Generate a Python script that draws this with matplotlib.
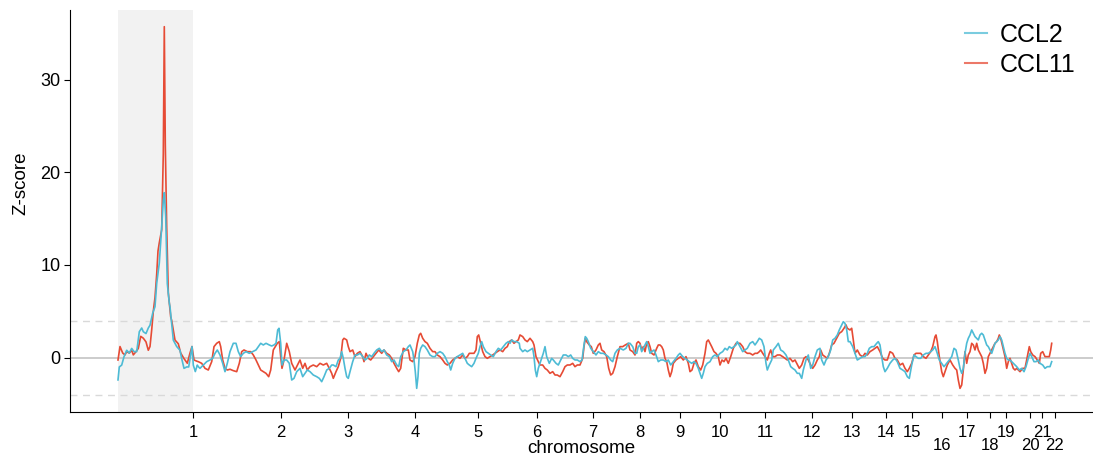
import matplotlib
matplotlib.use("Agg")
import matplotlib.pyplot as plt
from matplotlib.lines import Line2D

plt.rcParams['font.family'] = ['Liberation Sans', 'DejaVu Sans']

# chromosome end positions (same genomic bin units as the data)
chrom_labels = [str(i) for i in range(1, 23)]
chrom_ends = [75, 163, 230, 297, 360, 419, 475, 522, 562, 602, 647, 694,
              734, 768, 794, 824, 849, 872, 888, 912, 924, 937]
lower_row = ['16', '18', '20', '22']

# CCL11 (red)
pos_ccl11 = [0, 2, 4.7, 7, 8.7, 11.3, 13.7, 15.3, 18, 20.3, 22.7, 25.3, 28, 30.3, 32, 33.7,
             35.3, 37, 38.7, 40, 41.3, 43.7, 45.3, 46.3, 47.3, 48.7, 50.3, 52.7, 53.7, 57,
             60.3, 62.7, 66, 69.3, 72, 74, 76, 79.3,
             80.3, 83.7, 87, 90.3, 93.7, 96, 98.7, 101.3, 102.7, 104.7, 107, 109.3, 112,
             115.3, 118.7, 121.3, 123.7, 126, 129.3, 132.7, 135.3, 138, 140.3, 142.7, 145.3,
             148, 150.7, 152.7, 155.3, 157.3, 159.3, 161.3, 162.7, 164, 166, 168.7, 171.3,
             173.7, 177, 180.3,
             182, 184.7, 187, 189.3, 192, 195.3, 198.7, 202, 205.3, 208.7, 211.3, 213.7,
             215.3, 218, 220.3, 222.7, 224.7, 226, 228.7, 230.3, 232, 234.7, 237, 239.3, 242,
             244.7, 246, 248, 250.3, 252.7, 255.3, 258, 260.7, 263.7, 266, 268.7, 271.3,
             273.7, 276, 278.7, 280.7, 282.7, 285.3, 288, 290.3,
             292, 294.7, 297, 299.3, 301.3, 302.7, 304.7, 307, 309.3, 312, 314.7, 317, 319.3,
             322, 324.7, 327, 329.3, 332, 334.7, 337, 339.3, 342, 344.7, 347, 349.3, 351.3,
             353.7, 356, 358, 359.3, 360.7, 362.7, 364.7, 367, 369.3, 372, 374.7, 377, 379.3,
             382, 384.7, 387, 389.3, 391.3, 393.7, 396, 398, 400.3,
             402, 404.7, 407, 409.3, 412, 414.7, 416, 418, 420.3, 422, 424.7, 427, 429.3,
             432, 434.7, 437, 439.3, 442, 444.7, 447, 449.3, 452, 454.7, 457, 459.3, 462,
             464.7, 466, 467.3, 468.7, 471.3, 473.3, 475.3, 478, 480.3, 482, 483.7, 486,
             488.7, 490.7, 492.7, 494.7, 497, 499.3, 502, 504.7, 507.3, 510.3,
             512, 514.7, 517, 518.7, 520.3, 522, 523.7, 525.3, 527, 528.7, 530.3, 532, 533.7,
             536, 538.7, 540.3, 542, 543.7, 545.3, 547, 548.7, 550.3, 552, 553.7, 555.3, 558,
             560.3, 562.7, 565.3, 568, 570.3, 572, 574, 576, 578, 580.3, 582.7, 584.7, 587,
             588.7, 590.3, 592, 593.7, 596, 598, 600.3, 602, 604, 606, 608, 610.3, 612.7,
             615.3, 618, 620.3,
             622, 624.7, 627, 629.3, 632, 634.7, 637, 639.3, 641.3, 642.7, 644.7, 647, 649.3,
             651.3, 652.7, 654.7, 657, 659.3, 662, 664.7, 667, 669.3, 672, 674.7, 677, 678.7,
             681.3, 683.7, 686, 688, 690.3, 692.7, 694.7, 697, 699.3, 701.3, 702.7, 704.7,
             707, 709.3, 711.3, 713.7, 716, 718.7, 721.3, 723.7, 726, 728, 729.3,
             732, 733.7, 735.3, 737, 739.3, 742, 744.7, 747, 749.3, 752, 754.7, 757, 759.3,
             762, 764.7, 767, 769.3, 772, 774.7, 777, 779.3, 782, 784.7, 787, 789.3, 791.3,
             793.7, 796, 798, 800.3, 802.7, 805.3, 808, 810.3, 812.7, 814.7, 817, 818, 819.3,
             821.3, 823.7, 825.3, 827, 829.3, 832, 834.7, 837, 838.7, 840.3,
             842, 843.7, 845.3, 847, 848.7, 850.3, 852, 853.7, 855.3, 857, 858.7, 860.3, 862,
             863.7, 865.3, 867, 868.7, 870.3, 872, 873.7, 875.3, 877, 878.7, 880.3, 881.3,
             882.7, 884.7, 887, 888.7, 890.3, 892, 893.7, 895.3, 897, 898.7, 900.3, 902,
             904.7, 907, 909.3, 911.3, 912.7, 914.7, 917, 919.3, 921.3, 922.7, 924.7, 927,
             929.3, 931.3, 932.7, 933.7]
z_ccl11 = [-0.25, 1.2, 0.5, 0.3, 0.65, 0.5, 0.8, 0.3, 0.65, 1.0, 2.3, 2.1, 1.7, 0.8, 1.2, 3.0,
           5.0, 6.5, 9.0, 11.5, 12.4, 13.8, 22.0, 35.7, 23.0, 14.1, 7.0, 4.4, 4.0, 1.9,
           1.5, 0.5, -0.1, -0.6, 0.5, 1.2, -0.25, -0.4,
           -0.43, -0.61, -1.15, -1.33, -0.43, 1.19, 1.55, 1.73, 1.19, -0.25, -1.15, -1.33,
           -1.25, -1.4, -1.51, -0.61, 0.65, 0.83, 0.65, 0.65, 0.29, -0.25, -0.79, -1.33,
           -1.51, -1.69, -2.05, -1.33, 0.83, 1.19, 1.55, 1.73, 0.11, -1.15, -0.25, 1.55,
           0.65, -0.61, -1.33, -0.61,
           -0.25, -1.15, -0.61, -1.33, -0.97, -0.79, -0.97, -0.61, -0.79, -0.61, -1.15,
           -1.69, -2.23, -1.51, -0.97, -0.07, 1.91, 2.09, 1.91, 1.19, 0.65, 0.83, 0.11,
           0.47, 0.65, 0.11, -0.43, 0.47, -0.07, -0.25, 0.11, 0.47, 0.83, 0.47, 0.83, 0.47,
           0.29, -0.07, -0.61, -1.15, -1.51, -1.15, 1.01, 0.83, 0.83,
           -0.25, -0.43, 0.11, 1.55, 2.45, 2.63, 2.09, 1.73, 1.55, 1.01, 0.65, 0.65, 0.29,
           0.11, -0.25, -0.61, -0.79, -0.61, -0.25, -0.07, 0.11, -0.07, 0.29, -0.07, 0.11,
           0.47, 0.47, 0.47, 0.83, 2.27, 2.45, 1.55, 0.65, 0.11, -0.07, 0.11, 0.29, 0.47,
           0.65, 0.83, 0.65, 1.01, 1.19, 1.73, 1.91, 1.55, 1.73, 1.91,
           2.45, 2.27, 1.91, 1.73, 2.09, 1.73, 1.37, 0.11, -0.43, -0.79, -0.79, -1.15,
           -1.33, -1.69, -1.51, -1.87, -1.87, -2.05, -1.51, -0.97, -0.79, -0.79, -0.61,
           -0.97, -0.79, -0.79, -0.07, 1.19, 2.09, 1.73, 1.37, 1.19, 0.47, 0.83, 1.37, 1.55,
           0.83, 0.65, 0.11, -1.15, -1.87, -1.69, -0.97, 0.11, 1.19, 1.19, 1.37, 1.55,
           0.83, 0.65, 0.29, 1.55, 1.73, 1.55, 0.83, 1.19, 0.65, 1.55, 1.73, 1.19, 0.47,
           0.29, 1.01, 1.37, 1.37, 1.19, 0.83, -0.07, -0.43, -1.33, -2.05, -1.51, -0.61,
           -0.25, -0.07, 0.11, -0.25, 0.11, -0.61, -1.51, -1.33, -0.61, -0.25, -0.97, -1.33,
           -0.79, 0.47, 1.73, 1.91, 1.55, 1.19, 0.65, 0.47, 0.11, -0.79, -0.25, -0.43,
           -0.07, -0.61, 0.11, 1.01, 1.55, 1.55,
           1.55, 1.19, 0.65, 0.47, 0.47, 0.29, 0.47, 0.47, 0.65, 0.83, 0.47, 0.11, -0.25,
           0.47, 0.83, 0.11, 0.11, 0.29, 0.29, 0.11, -0.07, -0.25, -0.07, -0.43, -0.25,
           -0.61, -1.15, -0.79, -0.07, 0.11, -0.25, -0.79, -1.15, -0.79, -0.25, 0.11, 0.83,
           0.29, 0.11, -0.07, 0.47, 1.37, 1.55, 2.09, 2.63, 2.81, 3.17, 3.53, 3.17,
           2.99, 3.17, 1.91, 0.47, 0.83, 0.29, 0.11, 0.47, 0.29, 0.65, 0.83, 1.01, 1.19,
           0.65, -0.07, -0.25, -0.25, 0.65, 0.47, -0.07, -0.25, -0.79, -0.61, -1.15, -1.51,
           -1.15, -0.61, 0.29, 0.47, 0.47, 0.47, 0.11, -0.07, 0.29, 0.65, 1.19, 2.27, 2.45,
           1.73, 0.11, -1.51, -2.05, -1.51, -0.79, -0.25, -0.79, -1.15, -1.33, -2.41,
           -3.31, -2.95, -1.33, 0.65, -0.61, 0.29, 0.65, 1.55, 1.37, 0.83, 1.55, 0.83, 0.47,
           0.11, -0.61, -1.69, -1.15, 0.11, 0.47, 0.83, 1.19, 1.55, 1.73, 2.09, 2.45,
           2.09, 1.19, 0.11, -1.15, -0.43, -0.07, -0.61, -1.15, -1.33, -1.15, -1.33, -1.51,
           -1.15, -1.15, 0.11, 1.19, 0.65, 0.29, 0.11, -0.25, -0.61, 0.47, 0.65, 0.11,
           0.11, 0.11, 0.83, 1.55]

# CCL2 (blue)
pos_ccl2 = [0, 1.3, 3.7, 6, 8.7, 11.3, 13.7, 16, 18.7, 21.3, 23.7, 25.3, 28, 30.3, 32, 34.7,
            37, 38.7, 41.3, 43.7, 45.3, 46.3, 47.7, 49.3, 51.3, 52, 55.3, 58.7, 62, 63.7,
            66, 68.7, 70.7, 72.7, 74, 75.3, 77.3, 79.3,
            80.3, 82, 85.3, 88.7, 92, 94.7, 97, 99.3, 102, 104.7, 107, 109.3, 112, 115.3,
            118, 120.3, 122.7, 125.3, 128, 131.3, 134.7, 138, 140.3, 142.7, 145.3, 148,
            151.3, 153.7, 156, 158, 159.7, 161, 162.7, 164, 166, 168.7, 171.3, 173.7, 176,
            178.7,
            182, 184.7, 187, 189.3, 192, 195.3, 198.7, 201.3, 203.7, 206, 208.7, 211.3,
            213.7, 215.3, 218, 220.3, 222, 223.7, 225.3, 227, 228.7, 230.3, 232, 234.7, 237,
            239.3, 242, 244.7, 247, 249.3, 251.3, 253.7, 256, 258.7, 261.3, 263.7, 266,
            268.7, 271.3, 273.7, 276, 278.7, 280.7, 282.7, 285.3, 288, 290.3,
            292, 294.7, 296, 297.3, 298.7, 300, 301.3, 302.7, 304.7, 307, 309.3, 312, 314.7,
            317, 319.3, 322, 324.7, 327, 329.3, 331.3, 332.7, 334.7, 337, 339.3, 342, 344.7,
            347, 349.3, 351.3, 353.7, 356, 358, 360.3, 362, 363.7, 365.3, 368, 370.3, 372.7,
            375.3, 378, 380.3, 382.7, 385.3, 388, 390.3, 392, 393.7, 396, 398.7, 401.3,
            402, 404.7, 407, 409.3, 412, 414.7, 416, 417.3, 418.7, 420.3, 422, 423.7, 425.3,
            427, 428.7, 431.3, 433.7, 435.3, 438, 440.3, 442.7, 445.3, 448, 450.3, 452.7,
            454.7, 457, 459.3, 462, 464, 466, 467.3, 468.7, 470.3, 472.7, 475.3, 478, 480.3,
            482.7, 485.3, 488, 490.3, 492.7, 494.7, 497, 499.3, 502, 505.3, 508, 510.3,
            512, 514.7, 517, 518.7, 520.3, 522, 523.7, 525.3, 527, 528.7, 530.3, 532, 533.7,
            536, 538, 540.3, 542.7, 545.3, 548, 550.3, 552.7, 555.3, 558, 560.3, 562, 564.7,
            567, 569.3, 571.3, 573.7, 576, 578, 580.3, 582, 583.7, 585.3, 587, 589.3, 592,
            594.7, 597, 599.3, 602, 604.7, 607, 609.3, 611.3, 613.7, 616, 618, 619.3,
            622, 624.7, 627, 629.3, 632, 634.7, 637, 639.3, 641.3, 643.7, 646, 648, 649.3,
            651.3, 653.7, 655.3, 658, 660.3, 662.7, 665.3, 668, 670.3, 672.7, 674.7, 677,
            679.3, 681.3, 683.7, 685.3, 688, 690.3, 692.7, 694.7, 697, 699.3, 702, 703.7,
            706, 708, 710.3, 712.7, 714.7, 717, 719.3, 721.3, 723.7, 725.3, 727, 728.7,
            730.3,
            732, 734.7, 737, 739.3, 742, 744.7, 747, 749.3, 751.3, 753.7, 756, 758.7, 760.3,
            762, 763.7, 765.3, 767, 769.3, 772, 774.7, 777, 779.3, 782, 784.7, 787, 789.3,
            791.3, 793.7, 796, 798, 800.3, 802.7, 805.3, 808, 810.3, 812.7, 814.7, 817,
            819.3, 821.3, 823.7, 826, 828.7, 831.3, 833.7, 836, 838, 840.3,
            842, 843.7, 845.3, 847, 848.7, 850.3, 852, 853.7, 855.3, 857, 858.7, 860.3, 862,
            863.7, 865.3, 867, 868.7, 870.3, 872, 873.7, 875.3, 877, 878.7, 880.3, 882,
            883.7, 885.3, 887, 888.7, 890.3, 892, 893.7, 895.3, 897, 898.7, 901.3, 903.7,
            906, 908, 910.3, 912, 913.7, 916, 918, 920.3, 922, 924.7, 927, 929.3, 932,
            933.7]
z_ccl2 = [-2.4, -1.0, -0.8, 0.1, 0.8, 0.5, 1.0, 0.65, 0.65, 2.8, 3.2, 2.8, 2.6, 3.2, 3.5, 4.8,
          5.5, 8.0, 10.2, 14.1, 17.0, 17.8, 15.2, 8.0, 5.9, 5.5, 1.9, 1.2, 0.8, -0.1,
          -1.15, -1.0, -1.0, 0.3, 1.2, -0.8, -1.5, -0.8,
          -0.97, -1.15, -0.79, -0.43, -0.25, -0.07, 0.47, 0.83, 0.29, -0.61, -1.51, -0.61,
          0.65, 1.55, 1.55, 0.65, 0.11, 0.47, 0.65, 0.47, 0.65, 0.83, 1.19, 1.55, 1.37,
          1.55, 1.37, 1.26, 1.37, 1.55, 2.99, 3.17, 1.55, -0.79, -0.25, -0.25, -0.61,
          -2.41, -2.23, -1.51,
          -1.15, -2.05, -1.69, -1.33, -1.51, -1.87, -2.05, -2.23, -2.59, -2.05, -1.33,
          -1.15, -0.79, -0.79, -0.97, -0.25, -0.07, 0.65, -0.07, -1.15, -2.05, -2.23,
          -1.51, -0.43, 0.29, 0.29, 0.47, 0.11, -0.25, -0.07, 0.29, 0.11, 0.47, 0.83, 1.01,
          0.65, 0.83, 0.29, 0.11, -0.43, -0.25, -0.79, -0.97, 0.11, 0.65, 0.83, 1.19,
          1.37, 0.65, -0.25, -1.51, -3.31, -2.05, 0.47, 1.01, 1.37, 1.19, 0.83, 0.29, 0.11,
          0.11, 0.47, 0.65, 0.47, 0.11, -0.43, -0.79, -1.33, -0.61, -0.07, 0.11, 0.29,
          0.47, -0.07, -0.61, -0.79, -0.97, -0.61, -0.07, 0.47, 1.19, 1.73, 1.19, 0.65,
          0.47, 0.29, 0.11, 0.65, 1.01, 0.83, 1.19, 1.55, 1.73, 1.55, 1.91, 1.73, 1.73,
          1.55,
          1.01, 0.65, 0.83, 0.65, 0.83, 1.01, 0.11, -1.33, -2.05, -1.15, -0.61, -0.07,
          0.47, 1.19, 0.11, -0.61, -0.07, -0.25, -0.61, -0.79, -0.25, 0.29, 0.29, 0.11,
          0.29, -0.07, -0.25, -0.25, -0.43, -0.25, 1.37, 2.27, 2.09, 1.73, 1.01, 0.65,
          0.29, 0.65, 0.47, 0.47, 0.29, 0.11, -0.25, -0.43, 0.47, 0.83, 1.01, 0.83, 1.01,
          1.55,
          1.55, 1.19, 0.47, 0.47, 1.19, 1.37, 0.65, 1.01, 1.37, 1.73, 1.19, 0.47, 0.65,
          0.83, 0.29, -0.43, -0.25, -0.25, -0.43, -0.25, -0.79, -0.43, -0.07, 0.29, 0.47,
          0.11, -0.07, -0.25, -0.43, -0.61, -0.43, -0.61, -1.15, -1.69, -2.23, -1.69,
          -0.97, -0.61, -0.43, 0.11, 0.29, 0.11, 0.47, 0.65, 1.01, 0.83, 1.19, 1.01, 1.19,
          1.37, 1.73,
          1.19, 0.65, 0.83, 1.01, 1.55, 1.73, 1.37, 1.73, 2.09, 1.91, 1.19, -0.61, -1.33,
          -0.79, -0.25, 0.83, 1.19, 1.55, 0.83, 0.65, 0.29, -0.25, -0.97, -1.15, -1.33,
          -1.69, -1.69, -2.23, -1.33, -0.25, 0.29, -1.15, -0.79, 0.11, 0.83, 1.01, -0.25,
          -0.79, -0.25, 0.11, 0.83, 1.91, 2.09, 2.45, 2.99, 3.53, 3.88, 3.7, 2.99, 1.73,
          1.73, 1.19, 0.47, -0.25, -0.07, 0.11, 0.11, 0.47, 1.01, 1.19, 1.19, 1.55, 1.73,
          1.37, 0.11, -0.97, -1.51, -1.15, -0.61, -0.25, -0.07, -0.43, -1.15, -1.33, -1.51,
          -2.05, -2.23, -0.79, 0.29, 0.11, -0.07, -0.07, 0.29, 0.47, 0.47, 0.65, 0.83,
          1.19, 0.47, -0.25, -0.61, -0.97, -0.61, -0.25, 0.11, 1.01, 0.83, -0.25,
          -1.15, -1.69, -1.15, 0.47, 1.55, 2.09, 2.45, 2.99, 2.63, 2.27, 2.09, 1.91, 2.45,
          2.63, 2.45, 1.91, 1.37, 1.19, 0.83, 0.47, 1.01, 1.55, 1.73, 1.91, 2.27, 1.91,
          1.19, 0.47, -0.07, -0.25, -0.25, -0.43, -0.61, -0.79, -0.97, -1.33, -1.15, -1.51,
          -0.97, -0.07, 0.47, 0.11, -0.43, -0.43, -0.25, -0.61, -0.79, -1.15, -0.97, -0.97,
          -0.43]

red = '#E64B35'
blue = '#4DBBD5'

fig = plt.figure(figsize=(10.93, 4.61), dpi=100)
ax = fig.add_axes([70 / 1093, 49 / 461, 1023 / 1093, 402 / 461])

# chromosome 1 highlighted
ax.axvspan(0, chrom_ends[0], color='#F2F2F2', lw=0, zorder=0)
ax.axhline(0, color='#C8C8C8', lw=1.3, zorder=1)
ax.axhline(4, color='#D9D9D9', lw=1.0, ls=(0, (5, 4)), zorder=1)
ax.axhline(-4, color='#D9D9D9', lw=1.0, ls=(0, (5, 4)), zorder=1)

ax.plot(pos_ccl11, z_ccl11, color=red, lw=1.2, zorder=3)
ax.plot(pos_ccl2, z_ccl2, color=blue, lw=1.2, zorder=3)

ax.set_xlim(-48, 975)
ax.set_ylim(-5.86, 37.5)
ax.set_yticks([0, 10, 20, 30])
ax.tick_params(axis='y', labelsize=13, length=4, width=0.8, pad=3)

# upper row on major ticks, staggered lower row on minor ticks
up_pos = [p for p, l in zip(chrom_ends, chrom_labels) if l not in lower_row]
up_lab = [l for l in chrom_labels if l not in lower_row]
lo_pos = [p for p, l in zip(chrom_ends, chrom_labels) if l in lower_row]
lo_lab = [l for l in chrom_labels if l in lower_row]
ax.set_xticks(up_pos)
ax.set_xticklabels(up_lab)
ax.set_xticks(lo_pos, minor=True)
ax.set_xticklabels(lo_lab, minor=True)
ax.tick_params(axis='x', which='major', labelsize=12, length=4, width=0.8, pad=5)
ax.tick_params(axis='x', which='minor', labelsize=12, length=4, width=0.8, pad=15)

for s in ('top', 'right'):
    ax.spines[s].set_visible(False)
for s in ('left', 'bottom'):
    ax.spines[s].set_linewidth(0.8)

ax.set_xlabel('chromosome', fontsize=13.5)
ax.xaxis.set_label_coords(0.5, -0.07)
ax.set_ylabel('Z-score', fontsize=13.5)
ax.yaxis.set_label_coords(-0.04, 0.57)

handles = [Line2D([], [], color=blue, lw=1.5, alpha=0.75),
           Line2D([], [], color=red, lw=1.5, alpha=0.75)]
ax.legend(handles, ['CCL2', 'CCL11'], loc='upper right', bbox_to_anchor=(1.0, 1.012),
          frameon=False, fontsize=18, handlelength=0.9, handletextpad=0.5,
          labelspacing=0.25, borderaxespad=0.3)

fig.savefig('out.png', dpi=100)
